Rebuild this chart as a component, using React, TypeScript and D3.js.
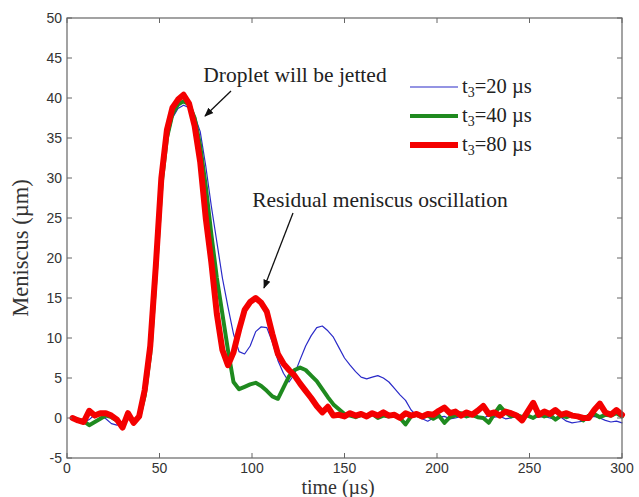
import * as d3 from "d3";

// time samples (µs)
const times = [
  3, 6, 9, 12, 15, 18, 21, 24, 27, 30, 33, 36, 39, 42, 45, 48, 51, 54, 57, 60,
  63, 66, 69, 72, 75, 78, 81, 84, 87, 90, 93, 96, 99, 102, 105, 108, 111, 114, 117, 120,
  123, 126, 129, 132, 135, 138, 141, 144, 147, 150, 153, 156, 159, 162, 165, 168, 171, 174, 177, 180,
  183, 186, 189, 192, 195, 198, 201, 204, 207, 210, 213, 216, 219, 222, 225, 228, 231, 234, 237, 240,
  243, 246, 249, 252, 255, 258, 261, 264, 267, 270, 273, 276, 279, 282, 285, 288, 291, 294, 297, 300,
];

// t3 = 20 µs
const menisc20 = [
  -0.3, -0.1, -0.6, -0.2, 0.4, 0.3, -0.1, -0.7, -0.9, -0.5, 0.2, -0.5, 0.0, 2.6, 7.5, 17, 28, 34.5, 37.5, 38.7,
  39.1, 38.8, 37.8, 35.8, 31.5, 26.5, 22, 17.5, 13.9, 10.5, 8.3, 8.0, 9.0, 10.8, 11.4, 11.3, 9.5, 7.2, 5.6, 4.5,
  5.5, 7.3, 9.0, 10.3, 11.3, 11.5, 10.9, 10.1, 8.8, 7.5, 6.6, 5.8, 5.1, 4.9, 5.1, 5.3, 5.0, 4.5, 3.7, 2.9,
  2.2, 1.0, 0.3, -0.1, -0.4, 0.0, 0.1, 0.2, -0.1, 0.0, 0.2, 0.1, 0.3, 0.2, 0.0, 0.3, 0.1, 0.2, -0.1, 0.0,
  0.2, 0.1, 0.3, 0.0, 0.1, 0.2, 0.0, -0.2, 0.1, -0.4, -0.6, -0.5, -0.4, 0.1, 0.2, 0.0, -0.3, -0.5, -0.4, -0.6,
];

// t3 = 40 µs
const menisc40 = [
  0.0, -0.2, -0.4, -0.9, -0.5, -0.1, 0.3, 0.1, -0.3, -0.8, 0.3, -0.4, 0.1, 2.8, 8, 18, 29, 35, 38, 39.2,
  39.6, 39.2, 37.5, 34, 29, 23, 17.5, 13, 8.5, 4.5, 3.6, 3.9, 4.2, 4.4, 4.0, 3.4, 2.7, 2.4, 3.8, 5.2,
  6.0, 6.3, 6.0, 5.3, 4.6, 3.6, 2.6, 1.7, 1.1, 0.5, 0.3, 0.1, 0.4, 0.2, 0.5, 0.0, 0.3, 0.2, 0.4, 0.0,
  -0.8, 0.2, 0.4, 0.1, 0.3, -0.1, 0.3, -0.6, 0.1, 0.3, 0.6, 0.2, 0.4, 0.1, 0.0, -0.6, 0.5, 1.5, 0.7, 0.2,
  0.4, 0.1, 0.3, 0.0, 0.5, 0.2, 0.4, -0.2, 0.3, 0.1, 0.4, 0.2, -0.3, 0.3, 0.5, 0.1, 0.4, 0.3, 0.6, 0.2,
];

// t3 = 80 µs
const menisc80 = [
  0.0, -0.3, -0.5, 0.9, 0.3, 0.6, 0.6, 0.3, -0.2, -1.2, 0.6, -0.6, 0.2, 3.5, 9, 19, 30, 36, 38.8, 39.8,
  40.4, 39.3, 36.5, 32, 25, 19.5, 13, 8.5, 6.6, 8.2, 11, 13.5, 14.5, 15.0, 14.4, 13.3, 10.5, 8, 6.8, 6,
  5.3, 4.3, 3.4, 2.5, 1.5, 0.7, 1.4, 0.3, 0.4, 0.2, 0.6, 0.3, 0.5, 0.2, 0.6, 0.3, 0.7, 0.3, 0.4, 0.0,
  0.6, 0.3, 0.5, 0.2, 0.5, 0.4, 0.9, 1.3, 0.6, 0.8, 0.3, 0.7, 0.4, 0.9, 1.5, 0.5, 0.7, 0.3, 0.8, 0.6,
  0.3, -0.3, 0.8, 1.9, 0.4, 0.8, 0.5, 1.0, 0.4, 0.6, 0.3, 0.2, 0.0, 0.0, 1.0, 1.8, 0.7, 0.4, 1.0, 0.4,
];

const seriesNames = ["20", "40", "80"];
const seriesColors = ["#2a2ac8", "#1f8a1f", "#f40000"];
const seriesWidths = [1.2, 4, 6];

const xTicks = [0, 50, 100, 150, 200, 250, 300];
const yTicks = [-5, 0, 5, 10, 15, 20, 25, 30, 35, 40, 45, 50];

export default function App() {
  const W = 639, H = 497;
  const left = 67, right = 622, top = 18, bottom = 458;

  const x = d3.scaleLinear().domain([0, 300]).range([left, right]);
  const y = d3.scaleLinear().domain([-5, 50]).range([bottom, top]);

  const allSeries = [menisc20, menisc40, menisc80];
  const line = d3.line<number>()
    .x((_, i) => x(times[i]))
    .y(d => y(d))
    .curve(d3.curveLinear);

  const axisColor = "#666";
  const tickLen = 5;
  const serif = "'Liberation Serif', 'Times New Roman', serif";
  const sans = "'Liberation Sans', Arial, sans-serif";

  return (
    <div style={{ position: "absolute", left: 0, top: 0 }}>
      <svg width={W} height={H} style={{ display: "block", background: "#fff" }}>
        <defs>
          <marker id="arrow" viewBox="0 0 10 10" refX="9" refY="5" markerWidth="7" markerHeight="7" orient="auto">
            <path d="M0,1 L10,5 L0,9 z" fill="#111" />
          </marker>
        </defs>

        {/* series */}
        {allSeries.map((s, i) => (
          <path key={i} d={line(s) || ""} fill="none" stroke={seriesColors[i]}
            strokeWidth={seriesWidths[i]} strokeLinejoin="round" strokeLinecap="round" />
        ))}

        {/* frame */}
        <rect x={left} y={top} width={right - left} height={bottom - top} fill="none" stroke={axisColor} strokeWidth={1.2} />

        {/* x ticks */}
        {xTicks.map(t => (
          <g key={"x" + t}>
            <line x1={x(t)} x2={x(t)} y1={bottom} y2={bottom - tickLen} stroke={axisColor} />
            <line x1={x(t)} x2={x(t)} y1={top} y2={top + tickLen} stroke={axisColor} />
            <text x={x(t)} y={bottom + 15} textAnchor="middle" fontFamily={sans} fontSize={14} fill="#333">{t}</text>
          </g>
        ))}

        {/* y ticks */}
        {yTicks.map(t => (
          <g key={"y" + t}>
            <line x1={left} x2={left + tickLen} y1={y(t)} y2={y(t)} stroke={axisColor} />
            <line x1={right} x2={right - tickLen} y1={y(t)} y2={y(t)} stroke={axisColor} />
            <text x={left - 5} y={y(t) + 5} textAnchor="end" fontFamily={sans} fontSize={14} fill="#333">{t}</text>
          </g>
        ))}

        {/* axis titles */}
        <text x={338} y={494} textAnchor="middle" fontFamily={serif} fontSize={20} fill="#333">time (µs)</text>
        <text transform={`translate(28,248) rotate(-90)`} textAnchor="middle"
          fontFamily={serif} fontSize={22.5} fill="#333">Meniscus (µm)</text>

        {/* legend */}
        {seriesNames.map((n, i) => {
          const ly = 87 + i * 29;
          return (
            <g key={"leg" + n}>
              <line x1={410} x2={458} y1={ly} y2={ly} stroke={seriesColors[i]} strokeWidth={seriesWidths[i]} />
              <text x={462} y={ly + 6} fontFamily={serif} fontSize={20.5} fill="#222">
                t<tspan dy={4} fontSize={14}>3</tspan><tspan dy={-4}>={n} µs</tspan>
              </text>
            </g>
          );
        })}

        {/* annotations */}
        <text x={295} y={82} textAnchor="middle" fontFamily={serif} fontSize={21.5} fill="#222">Droplet will be jetted</text>
        <line x1={231} y1={91} x2={205} y2={116} stroke="#111" strokeWidth={1.3} markerEnd="url(#arrow)" />
        <text x={380} y={207} textAnchor="middle" fontFamily={serif} fontSize={21.5} fill="#222">Residual meniscus oscillation</text>
        <line x1={293} y1={213} x2={264} y2={288} stroke="#111" strokeWidth={1.3} markerEnd="url(#arrow)" />
      </svg>
    </div>
  );
}
